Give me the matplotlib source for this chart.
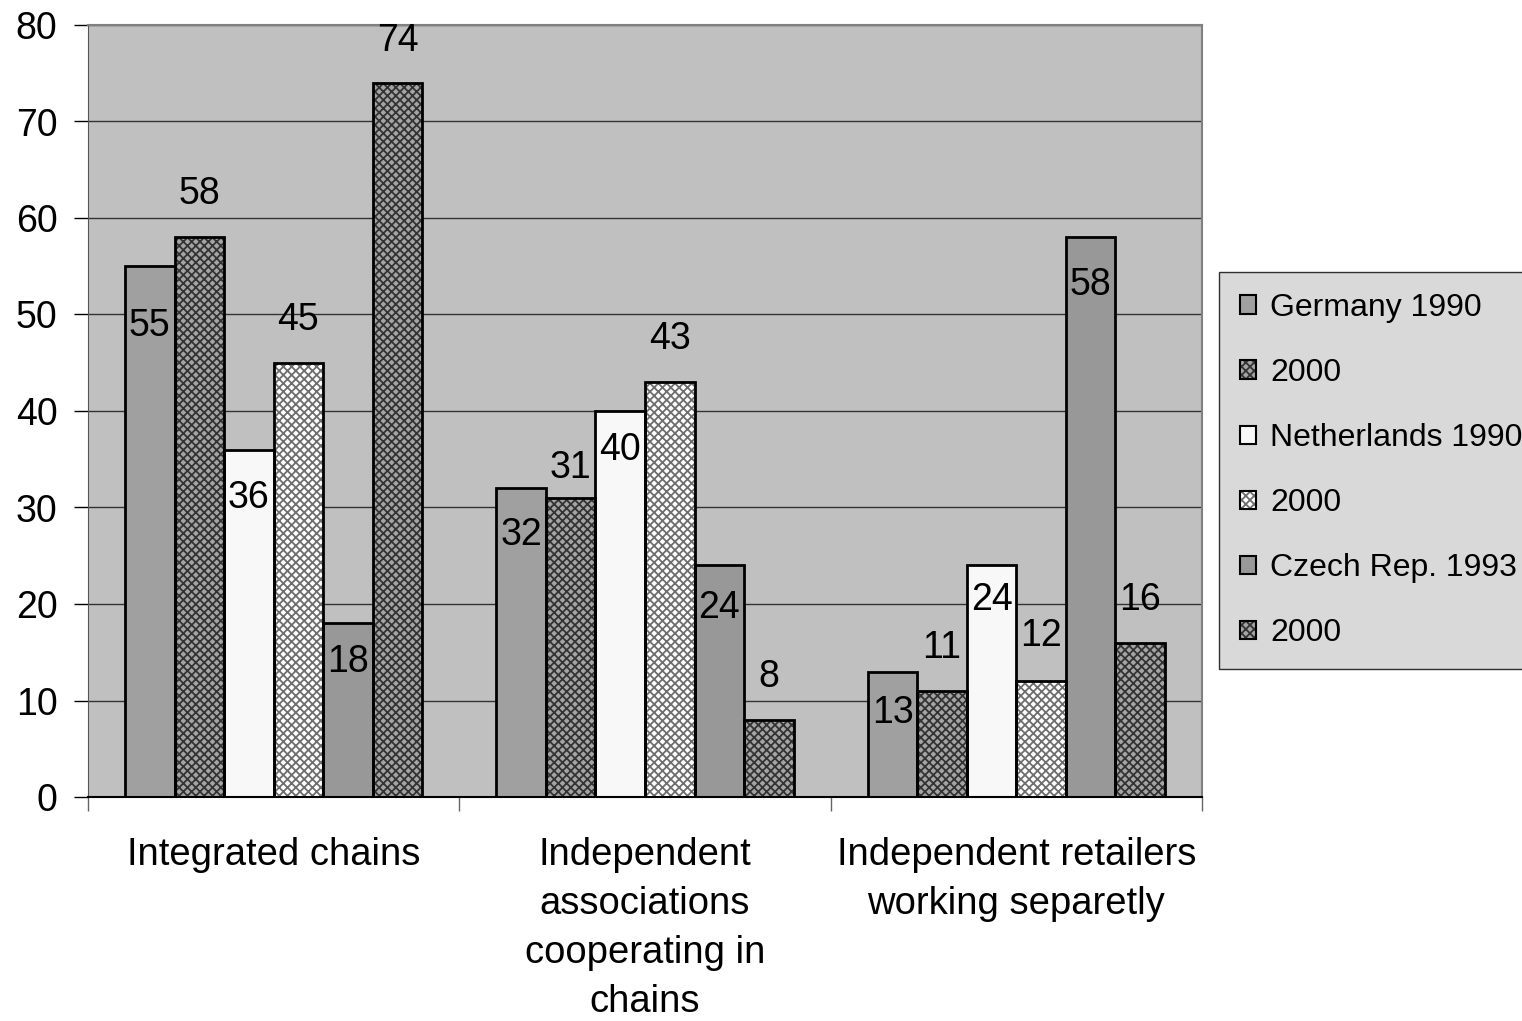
import numpy as np
import matplotlib.pyplot as plt
from matplotlib.patches import Patch

plt.rcParams['font.family'] = ['Liberation Sans', 'DejaVu Sans']
plt.rcParams['hatch.linewidth'] = 1.3

categories = ['Integrated chains',
              'Independent\nassociations\ncooperating in\nchains',
              'Independent retailers\nworking separetly']
series = ['Germany 1990', '2000', 'Netherlands 1990', '2000', 'Czech Rep. 1993', '2000']
germany_1990 = [55, 32, 13]
germany_2000 = [58, 31, 11]
netherlands_1990 = [36, 40, 24]
netherlands_2000 = [45, 43, 12]
czech_1993 = [18, 24, 58]
czech_2000 = [74, 8, 16]
values = [germany_1990, germany_2000, netherlands_1990, netherlands_2000, czech_1993, czech_2000]

# label offsets (pixels from bar top, positive = above)
label_dy = [[-60, -47, -41],
            [43, 30, 43],
            [-48, -39, -35],
            [43, 43, 45],
            [-39, -43, -48],
            [42, 43, 43]]

# face colour, hatch colour, hatch pattern
styles = [('#a0a0a0', None, ''),
          ('#a4a4a4', '#333333', 'xxxx'),
          ('#f8f8f8', None, ''),
          ('#ffffff', '#6e6e6e', 'xxxx'),
          ('#989898', None, ''),
          ('#a4a4a4', '#333333', 'xxxx')]

fig = plt.figure(figsize=(15.22, 10.21), dpi=100)
ax = fig.add_axes([88 / 1522, 1 - 797 / 1021, (1202 - 88) / 1522, (797 - 25) / 1021])
ax.set_facecolor('#c0c0c0')

x = np.arange(len(categories))
w = 0.8 / len(series)
handles = []
for i, (vals, (fc, hc, hatch)) in enumerate(zip(values, styles)):
    pos = x - 0.4 + w * (i + 0.5)
    if hatch:
        ax.bar(pos, vals, w, color=fc, edgecolor=hc, hatch=hatch, linewidth=0, zorder=2)
    else:
        ax.bar(pos, vals, w, color=fc, linewidth=0, zorder=2)
    ax.bar(pos, vals, w, fill=False, edgecolor='black', linewidth=2, zorder=3)
    for p, v, dy in zip(pos, vals, label_dy[i]):
        ax.annotate(str(v), (p, v), xytext=(0, dy), textcoords='offset pixels',
                    ha='center', va='center', fontsize=27, zorder=4)
    outline = Patch(fill=False, edgecolor='black', linewidth=1.5)
    if hatch:
        handles.append((Patch(facecolor=fc, edgecolor=hc, hatch=hatch, linewidth=0), outline))
    else:
        handles.append((Patch(facecolor=fc, linewidth=0), outline))

ax.set_xlim(-0.5, 2.5)
ax.set_ylim(0, 80)
ax.set_yticks(np.arange(0, 81, 10))
ax.yaxis.grid(True, color='#333333', linewidth=1)
ax.set_axisbelow(True)
ax.tick_params(axis='y', labelsize=27, length=10, width=1, pad=12, colors='black')

ax.set_xticks([-0.5, 0.5, 1.5, 2.5], minor=False)
ax.set_xticklabels([])
ax.tick_params(axis='x', length=10, width=1, color='#666666')
for xi, c in zip(x, categories):
    ax.text(xi, -4.1, c, ha='center', va='top', fontsize=27.5, linespacing=1.47)

for s in ['top', 'right']:
    ax.spines[s].set_color('#808080')
    ax.spines[s].set_linewidth(1.5)
ax.spines['left'].set_color('#555555')
ax.spines['bottom'].set_color('black')
ax.spines['bottom'].set_linewidth(1.5)

leg = fig.legend(handles, series, loc='upper left', bbox_to_anchor=(1219 / 1522, 1 - 272 / 1021),
                 fontsize=23, frameon=True, fancybox=False, facecolor='#d0d0d0',
                 edgecolor='black', handlelength=0.5, handleheight=0.5, handletextpad=0.45,
                 labelspacing=1.1, borderpad=0.65, borderaxespad=0)
leg.get_frame().set_linewidth(1)

plt.savefig('out.png', dpi=100)
